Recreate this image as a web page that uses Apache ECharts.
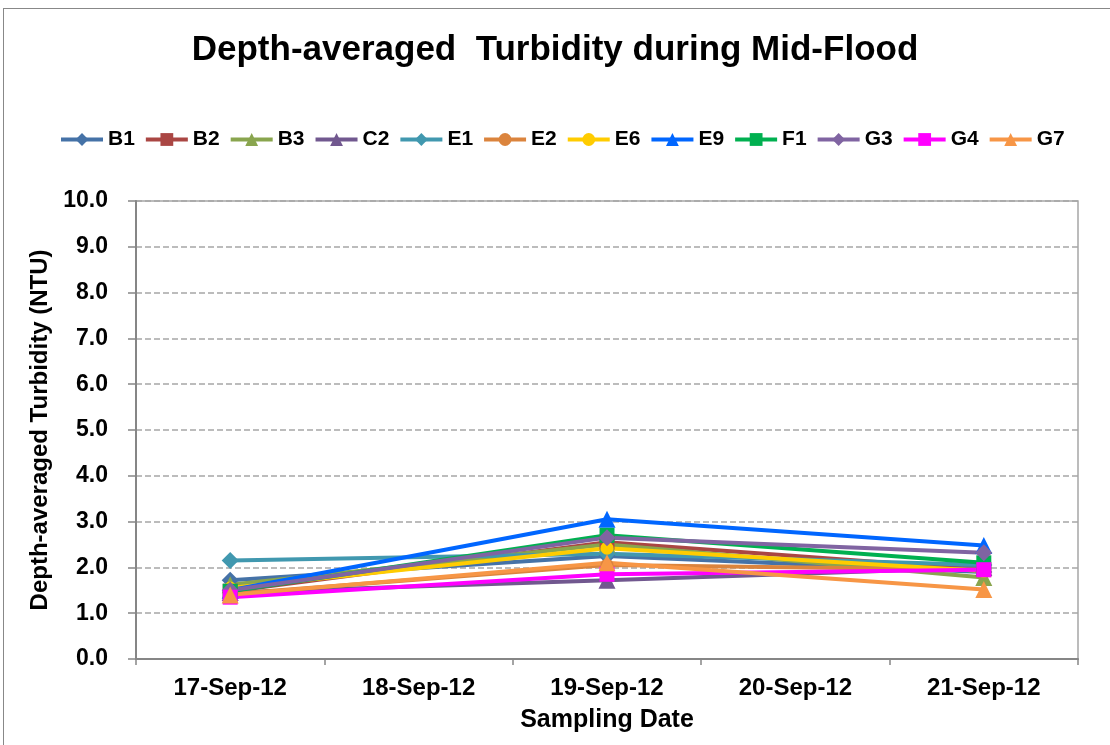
<!DOCTYPE html>
<html>
<head>
<meta charset="utf-8">
<script src="https://cdn.jsdelivr.net/npm/echarts@6/dist/echarts.min.js"></script>
<style>
  html, body { margin: 0; padding: 0; background: #fff; }
  #frame { position: absolute; left: 3px; top: 8px; width: 1110px; height: 745px; border: 1px solid #888; border-right: none; border-bottom: none; box-sizing: border-box; }
  #main { position: absolute; left: 0; top: 0; width: 1110px; height: 745px; }
</style>
</head>
<body>
<div id="frame"></div>
<div id="main"></div>
<script>
// sampling dates (18 and 20 have no measurements)
var dates = ['17-Sep-12', '18-Sep-12', '19-Sep-12', '20-Sep-12', '21-Sep-12'];
var yTicks = [0, 10, 1];

var B1 = [1.72, null, 2.25, null, 1.90];
var B2 = [1.48, null, 2.55, null, 1.95];
var B3 = [1.62, null, 2.50, null, 1.78];
var C2 = [1.45, null, 1.72, null, 2.00];
var E1 = [2.15, null, 2.30, null, 2.05];
var E2 = [1.42, null, 2.05, null, 1.95];
var E6 = [1.55, null, 2.42, null, 1.92];
var E9 = [1.50, null, 3.05, null, 2.48];
var F1 = [1.48, null, 2.70, null, 2.10];
var G3 = [1.50, null, 2.65, null, 2.32];
var G4 = [1.35, null, 1.85, null, 1.95];
var G7 = [1.40, null, 2.10, null, 1.52];

var seriesDefs = [
  ['B1', B1, '#4572A7', 'diamond'],
  ['B2', B2, '#AA4643', 'rect'],
  ['B3', B3, '#89A54E', 'triangle'],
  ['C2', C2, '#71588F', 'triangle'],
  ['E1', E1, '#4198AF', 'diamond'],
  ['E2', E2, '#DB843D', 'circle'],
  ['E6', E6, '#FFCC00', 'circle'],
  ['E9', E9, '#0066FF', 'triangle'],
  ['F1', F1, '#00B050', 'rect'],
  ['G3', G3, '#8064A2', 'diamond'],
  ['G4', G4, '#FF00FF', 'rect'],
  ['G7', G7, '#F79646', 'triangle']
];

var FONT = '"Liberation Sans", Arial, sans-serif';

var chart = echarts.init(document.getElementById('main'));
chart.setOption({
  animation: false,
  color: seriesDefs.map(function (d) { return d[2]; }),
  title: {
    text: 'Depth-averaged  Turbidity during Mid-Flood',
    left: 'center',
    top: 28,
    textStyle: { fontFamily: FONT, fontWeight: 'bold', fontSize: 35, color: '#000' }
  },
  legend: {
    top: 124,
    left: 54,
    itemWidth: 42,
    itemHeight: 16,
    itemGap: 9,
    lineStyle: { width: 4 },
    textStyle: { fontFamily: FONT, fontWeight: 'bold', fontSize: 21, color: '#000' },
    data: seriesDefs.map(function (d) { return d[0]; })
  },
  grid: {
    left: 136, top: 201, right: 32, bottom: 86,
    show: true, borderColor: '#A6A6A6', borderWidth: 1.5,
    containLabel: false
  },
  xAxis: {
    type: 'category',
    data: dates,
    boundaryGap: true,
    name: 'Sampling Date',
    nameLocation: 'middle',
    nameGap: 49,
    nameTextStyle: { fontFamily: FONT, fontWeight: 'bold', fontSize: 25, color: '#000' },
    axisLine: { lineStyle: { color: '#868686', width: 2 } },
    axisTick: { show: true, length: 6, lineStyle: { color: '#868686', width: 1.5 } },
    axisLabel: { fontFamily: FONT, fontWeight: 'bold', fontSize: 24, color: '#000', margin: 17 }
  },
  yAxis: {
    type: 'value',
    min: yTicks[0], max: yTicks[1], interval: yTicks[2],
    name: 'Depth-averaged Turbidity (NTU)',
    nameLocation: 'middle',
    nameGap: 73,
    nameTextStyle: { fontFamily: FONT, fontWeight: 'bold', fontSize: 24, color: '#000' },
    axisLine: { show: true, lineStyle: { color: '#868686', width: 2 } },
    axisTick: { show: true, length: 8, lineStyle: { color: '#868686', width: 1.5 } },
    axisLabel: {
      fontFamily: FONT, fontWeight: 'bold', fontSize: 23, color: '#000', margin: 28,
      formatter: function (v) { return v.toFixed(1); }
    },
    splitLine: { lineStyle: { color: '#A6A6A6', type: [6, 3], width: 1.5 } }
  },
  series: seriesDefs.map(function (d) {
    return {
      name: d[0],
      type: 'line',
      data: d[1],
      connectNulls: true,
      symbol: d[3],
      symbolSize: d[3] === 'circle' ? 13 : (d[3] === 'rect' ? 15 : 17),
      lineStyle: { width: 4, color: d[2] },
      itemStyle: { color: d[2] }
    };
  })
});
</script>
</body>
</html>
